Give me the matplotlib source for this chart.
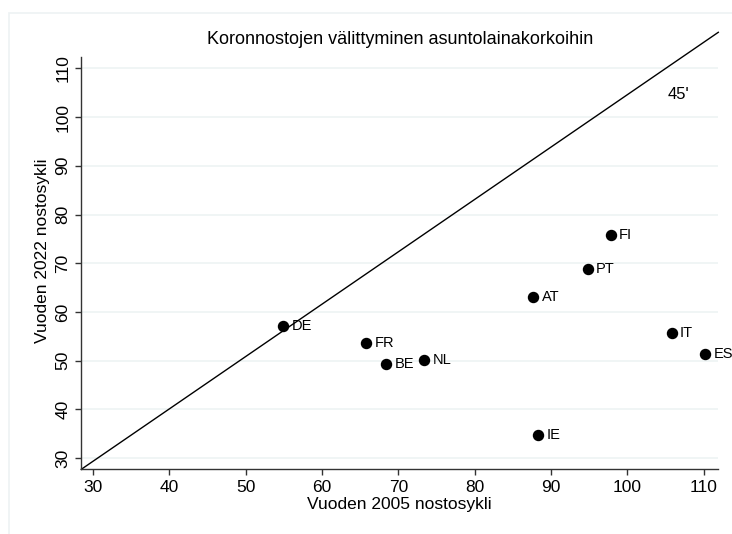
import matplotlib.pyplot as plt
from matplotlib.patches import Rectangle

countries = ['DE', 'FR', 'BE', 'NL', 'AT', 'IE', 'PT', 'FI', 'IT', 'ES']
cycle_2005 = [54.9, 65.8, 68.4, 73.4, 87.7, 88.3, 94.8, 97.8, 105.8, 110.2]
cycle_2022 = [57.2, 53.6, 49.3, 50.2, 63.1, 34.8, 68.8, 75.7, 55.6, 51.3]

# 45 degree reference line as drawn in the original
ref_x = [28.5, 111.9]
ref_y = [27.7, 117.4]

ticks = [30, 40, 50, 60, 70, 80, 90, 100, 110]

plt.rcParams['font.family'] = ['Liberation Sans', 'DejaVu Sans']

fig = plt.figure(figsize=(7.32, 5.34), dpi=100)
fig.patches.append(Rectangle((9 / 732, -0.1), 1.2, 1.1 - 13 / 534, transform=fig.transFigure,
                             fill=False, edgecolor='#edf2f3', linewidth=1.2))
ax = fig.add_axes([81.3 / 732, 1 - 469.3 / 534, (718.3 - 81.3) / 732, (469.3 - 32.3) / 534])

ax.plot(ref_x, ref_y, color='black', linewidth=1.0, clip_on=False, zorder=2)
ax.scatter(cycle_2005, cycle_2022, s=52, color='black', zorder=3, clip_on=False)
for c, x, y in zip(countries, cycle_2005, cycle_2022):
    ax.annotate(c, (x, y), xytext=(6, 0), textcoords='offset points',
                va='center', ha='left', fontsize=10.5, annotation_clip=False)

ax.text(106.7, 104.6, "45'", fontsize=12, ha='center', va='center')

ax.set_xlim(28.5, 111.9)
ax.set_ylim(27.7, 117.4)
ax.set_xticks(ticks)
ax.set_yticks(ticks)
ax.set_yticklabels([str(t) for t in ticks], rotation=90, va='center')
ax.tick_params(axis='both', direction='out', length=4, width=1, color='#333333',
               labelsize=12.5, pad=4)
ax.grid(axis='y', color='#eef3f4', linewidth=1.2)
ax.set_axisbelow(True)

for s in ['top', 'right']:
    ax.spines[s].set_visible(False)
for s in ['left', 'bottom']:
    ax.spines[s].set_color('#333333')
    ax.spines[s].set_linewidth(1.0)
ax.spines['left'].set_bounds(27.7, 112.3)

ax.set_xlabel('Vuoden 2005 nostosykli', fontsize=12.5, labelpad=1)
ax.set_ylabel('Vuoden 2022 nostosykli', fontsize=12.5, labelpad=4)
fig.text(400 / 732, 1 - 40 / 534, 'Koronnostojen välittyminen asuntolainakorkoihin',
         ha='center', va='center', fontsize=13)

fig.savefig('out.png', dpi=100)
